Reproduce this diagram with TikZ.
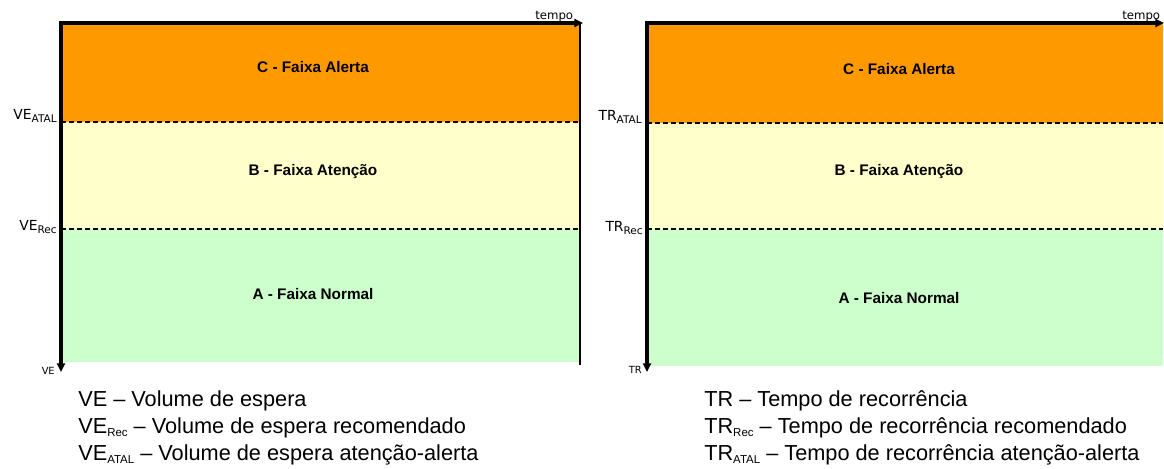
\documentclass[tikz,border=0pt]{standalone}
\usepackage{fontspec}
\setmainfont{Liberation Sans}
\newfontfamily\axfont{DejaVu Sans}
\usetikzlibrary{arrows.meta}
\definecolor{alerta}{HTML}{FF9900}
\definecolor{atencao}{HTML}{FFFFCC}
\definecolor{normal}{HTML}{CCFFCC}
\tikzset{
    axis/.style={line width=2.4pt, line join=miter, {Triangle[length=6.5pt,width=6pt]}-{Triangle[length=6.5pt,width=6pt]}},
    limit/.style={line width=0.9pt, dash pattern=on 3.75pt off 2.25pt},
    faixa/.style={font=\fontsize{11.5}{13}\selectfont\bfseries, inner sep=0pt},
    eixo/.style={font=\axfont\fontsize{10.4}{12}\selectfont, inner sep=0pt, anchor=base east},
    legenda/.style={font=\fontsize{16.3}{19}\selectfont, inner sep=0pt, anchor=base west}
}
\newcommand{\axsub}[1]{\raisebox{-2.8pt}{\fontsize{7.9}{8}\selectfont #1}}
\newcommand{\legsub}[1]{\raisebox{-2.5pt}{\fontsize{8.6}{10}\selectfont #1}}

\begin{document}
\begin{tikzpicture}[x=0.75pt, y=-0.75pt]
    \useasboundingbox (0,0) rectangle (1164,468);
    \begin{scope}[shift={(61,23)}]
        \fill[alerta] (0,0) rectangle (519,99);
        \fill[atencao] (0,99) rectangle (519,206);
        \fill[normal] (0,206) rectangle (519,339);
        \draw[limit] (0,99)--(519,99);
        \draw[limit] (0,206)--(519,206);
        \draw[line width=1.2pt] (519,0)--(519,342);
        \coordinate (O1) at (0,0);
        \coordinate (T1) at (522,0);
        \coordinate (V1) at (0,349);
        \draw[axis] (T1)--(O1)--(V1);
        \node[faixa] (C1) at (252,44.5){C - Faixa Alerta};
        \node[faixa] (B1) at (252,149){B - Faixa Atenção};
        \node[faixa] (A1) at (252,271){A - Faixa Normal};
        \node[eixo] (VEatal) at (-4,96){VE\axsub{ATAL}};
        \node[eixo] (VErec) at (-4,207){VE\axsub{Rec}};
        \node[eixo, font=\axfont\fontsize{7.4}{8}\selectfont] (VE) at (-6,351){VE};
        \node[eixo, anchor=base west, font=\axfont\fontsize{8.8}{10}\selectfont] (tempo1) at (474,-4){tempo};
        \node[legenda] (leg1) at (17,383.7){VE – Volume de espera};
        \node[legenda] (leg2) at (17,410.3){VE\legsub{Rec} – Volume de espera recomendado};
        \node[legenda] (leg3) at (17,437){VE\legsub{ATAL} – Volume de espera atenção-alerta};
    \end{scope}
    \begin{scope}[shift={(647,23)}]
        \fill[alerta] (0,0) rectangle (516,100);
        \fill[atencao] (0,100) rectangle (516,206);
        \fill[normal] (0,206) rectangle (516,343);
        \draw[limit] (0,100)--(516,100);
        \draw[limit] (0,206)--(516,206);
        \coordinate (O2) at (0,0);
        \coordinate (T2) at (517,0);
        \coordinate (V2) at (0,349);
        \draw[axis] (T2)--(O2)--(V2);
        \node[faixa] (C2) at (252,46){C - Faixa Alerta};
        \node[faixa] (B2) at (252,149){B - Faixa Atenção};
        \node[faixa] (A2) at (252,275){A - Faixa Normal};
        \node[eixo] (TRatal) at (-5,97){TR\axsub{ATAL}};
        \node[eixo] (TRrec) at (-4,208){TR\axsub{Rec}};
        \node[eixo, font=\axfont\fontsize{7.4}{8}\selectfont] (TR) at (-5,350){TR};
        \node[eixo, anchor=base west, font=\axfont\fontsize{8.8}{10}\selectfont] (tempo2) at (475,-4){tempo};
        \node[legenda] (leg4) at (57,383.7){TR – Tempo de recorrência};
        \node[legenda] (leg5) at (57,410.3){TR\legsub{Rec} – Tempo de recorrência recomendado};
        \node[legenda] (leg6) at (57,437){TR\legsub{ATAL} – Tempo de recorrência atenção-alerta};
    \end{scope}
\end{tikzpicture}
\end{document}
